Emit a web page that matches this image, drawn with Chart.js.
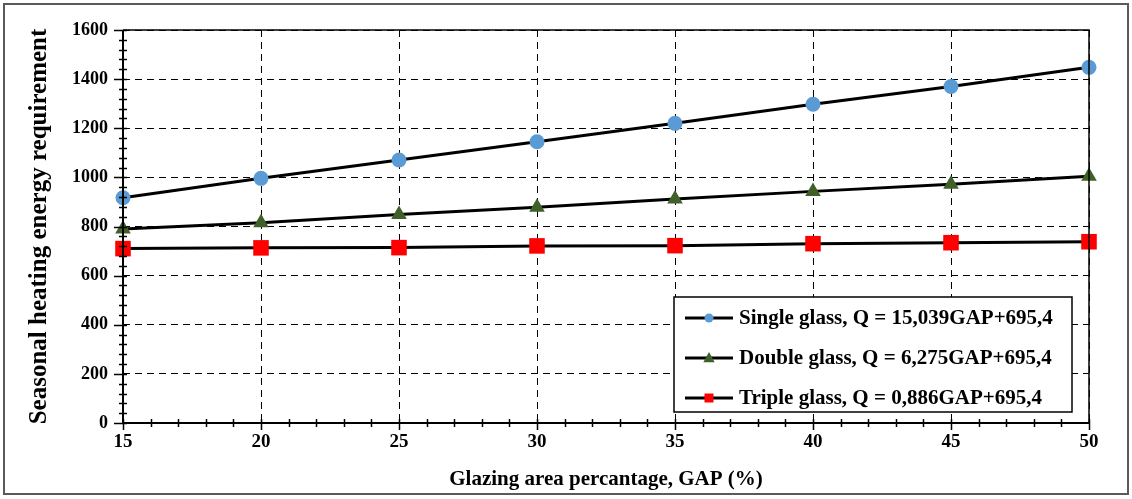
<!DOCTYPE html>
<html>
<head>
<meta charset="utf-8">
<script src="https://cdn.jsdelivr.net/npm/chart.js@4/dist/chart.umd.min.js"></script>
<style>
  html, body { margin: 0; padding: 0; background: #fff; }
  #wrap { width: 1132px; height: 499px; }
</style>
</head>
<body>
<div id="wrap"><canvas id="c" width="1132" height="499"></canvas></div>
<script>
// ---- data ----
const gap = [15, 20, 25, 30, 35, 40, 45, 50];
const singleGlass = [917, 996, 1071, 1145, 1220, 1298, 1370, 1448];
const doubleGlass = [790, 815, 849, 878, 912, 943, 972, 1005];
const tripleGlass = [710, 713, 714, 721, 722, 730, 734, 738];
const seriesLabels = [
  'Single glass, Q = 15,039GAP+695,4',
  'Double glass, Q = 6,275GAP+695,4',
  'Triple glass, Q = 0,886GAP+695,4'
];
const xTitle = 'Glazing area percantage, GAP (%)';
const yTitle = 'Seasonal heating energy requirement';

const FONT = '"Liberation Serif", "Times New Roman", serif';

function pts(ys) { return gap.map((x, i) => ({ x: x, y: ys[i] })); }

const frameAndTicks = {
  id: 'frameAndTicks',
  beforeDraw(chart) {
    const ctx = chart.ctx;
    ctx.save();
    ctx.fillStyle = '#fff';
    ctx.fillRect(0, 0, chart.width, chart.height);
    ctx.restore();
  },
  afterDatasetsDraw(chart) {
    const { ctx, chartArea: a, scales: { x, y } } = chart;
    ctx.save();
    ctx.strokeStyle = '#000';
    ctx.lineWidth = 1.5;
    ctx.beginPath();
    ctx.moveTo(a.left, a.top); ctx.lineTo(a.right, a.top); ctx.lineTo(a.right, a.bottom);
    ctx.stroke();
    ctx.lineWidth = 2;
    ctx.beginPath();
    ctx.moveTo(a.left, a.top); ctx.lineTo(a.left, a.bottom); ctx.lineTo(a.right, a.bottom);
    ctx.stroke();
    ctx.lineWidth = 1.5;
    ctx.beginPath();
    for (let v = 0; v <= 1600; v += 40) {
      const py = Math.round(y.getPixelForValue(v)) + 0.5;
      if (v % 200 === 0) { ctx.moveTo(a.left - 9, py); ctx.lineTo(a.left + 4, py); }
      else { ctx.moveTo(a.left - 4, py); ctx.lineTo(a.left + 4, py); }
    }
    for (let v = 15; v <= 50; v += 1) {
      const px = Math.round(x.getPixelForValue(v)) + 0.5;
      if (v % 5 === 0) { ctx.moveTo(px, a.bottom - 4); ctx.lineTo(px, a.bottom + 7); }
      else { ctx.moveTo(px, a.bottom - 4); ctx.lineTo(px, a.bottom + 4); }
    }
    ctx.stroke();
    ctx.restore();
    drawLegend(chart);
    ctx.save();
    ctx.strokeStyle = '#5a5a5a';
    ctx.lineWidth = 2;
    ctx.strokeRect(4, 4, chart.width - 8, chart.height - 9);
    ctx.restore();
  }
};

function drawMarker(ctx, style, color, cx, cy, s) {
  ctx.fillStyle = color;
  ctx.beginPath();
  if (style === 'circle') {
    ctx.arc(cx, cy, s, 0, Math.PI * 2);
  } else if (style === 'triangle') {
    ctx.moveTo(cx, cy - s);
    ctx.lineTo(cx + s * 0.95, cy + s * 0.7);
    ctx.lineTo(cx - s * 0.95, cy + s * 0.7);
    ctx.closePath();
  } else {
    ctx.rect(cx - s, cy - s, 2 * s, 2 * s);
  }
  ctx.fill();
}

function drawLegend(chart) {
  const ctx = chart.ctx;
  const bx = 674, by = 297, bw = 398, bh = 115;
  ctx.save();
  ctx.fillStyle = '#fff';
  ctx.fillRect(bx, by, bw, bh);
  ctx.strokeStyle = '#000';
  ctx.lineWidth = 1.5;
  ctx.strokeRect(bx, by, bw, bh);
  const rows = [318, 358, 398];
  const sizes = [4.5, 6, 4.5];
  chart.data.datasets.forEach((ds, i) => {
    const ry = rows[i];
    ctx.strokeStyle = '#000';
    ctx.lineWidth = 3;
    ctx.beginPath();
    ctx.moveTo(685, ry); ctx.lineTo(733, ry);
    ctx.stroke();
    drawMarker(ctx, ds.pointStyle, ds.pointBackgroundColor, 709, ry, sizes[i]);
    ctx.fillStyle = '#000';
    ctx.font = 'bold 21px ' + FONT;
    ctx.textBaseline = 'middle';
    ctx.textAlign = 'left';
    ctx.fillText(ds.label, 739, ry + 1);
  });
  ctx.restore();
}

const common = { borderColor: '#000', borderWidth: 3, tension: 0, clip: false, showLine: true };

new Chart(document.getElementById('c'), {
  type: 'line',
  data: {
    datasets: [
      Object.assign({ label: seriesLabels[0], data: pts(singleGlass), pointStyle: 'circle', pointRadius: 7.5,
        pointBackgroundColor: '#5b9bd5', pointBorderColor: '#5b9bd5', pointBorderWidth: 0 }, common),
      Object.assign({ label: seriesLabels[1], data: pts(doubleGlass), pointStyle: 'triangle', pointRadius: 9,
        pointBackgroundColor: '#3f6129', pointBorderColor: '#3f6129', pointBorderWidth: 0 }, common),
      Object.assign({ label: seriesLabels[2], data: pts(tripleGlass), pointStyle: 'rect', pointRadius: 11,
        pointBackgroundColor: '#ff0000', pointBorderColor: '#ff0000', pointBorderWidth: 0 }, common)
    ]
  },
  options: {
    responsive: false,
    animation: false,
    events: [],
    layout: { padding: { left: 18, right: 43, top: 30, bottom: 7 } },
    plugins: { legend: { display: false }, tooltip: { enabled: false } },
    scales: {
      x: {
        type: 'linear', min: 15, max: 50,
        afterFit(s) { s.height = 69; },
        ticks: { stepSize: 5, padding: 8, color: '#000', callback: v => String(v),
          font: { family: FONT, size: 19, weight: 'bold' } },
        grid: { color: '#000', lineWidth: 1, drawTicks: false },
        border: { display: false, dash: [7, 5] },
        title: { display: true, text: xTitle, color: '#000', padding: { top: 0, bottom: 0 },
          font: { family: FONT, size: 21, weight: 'bold' } }
      },
      y: {
        type: 'linear', min: 0, max: 1600,
        afterFit(s) { s.width = 105; },
        ticks: { stepSize: 200, padding: 15, color: '#000', callback: v => String(v),
          font: { family: FONT, size: 18, weight: 'bold' } },
        grid: { color: '#000', lineWidth: 1, drawTicks: false },
        border: { display: false, dash: [7, 5] },
        title: { display: true, text: yTitle, color: '#000', padding: { top: 7, bottom: 0 },
          font: { family: FONT, size: 25, weight: 'bold' } }
      }
    }
  },
  plugins: [frameAndTicks]
});
</script>
</body>
</html>
